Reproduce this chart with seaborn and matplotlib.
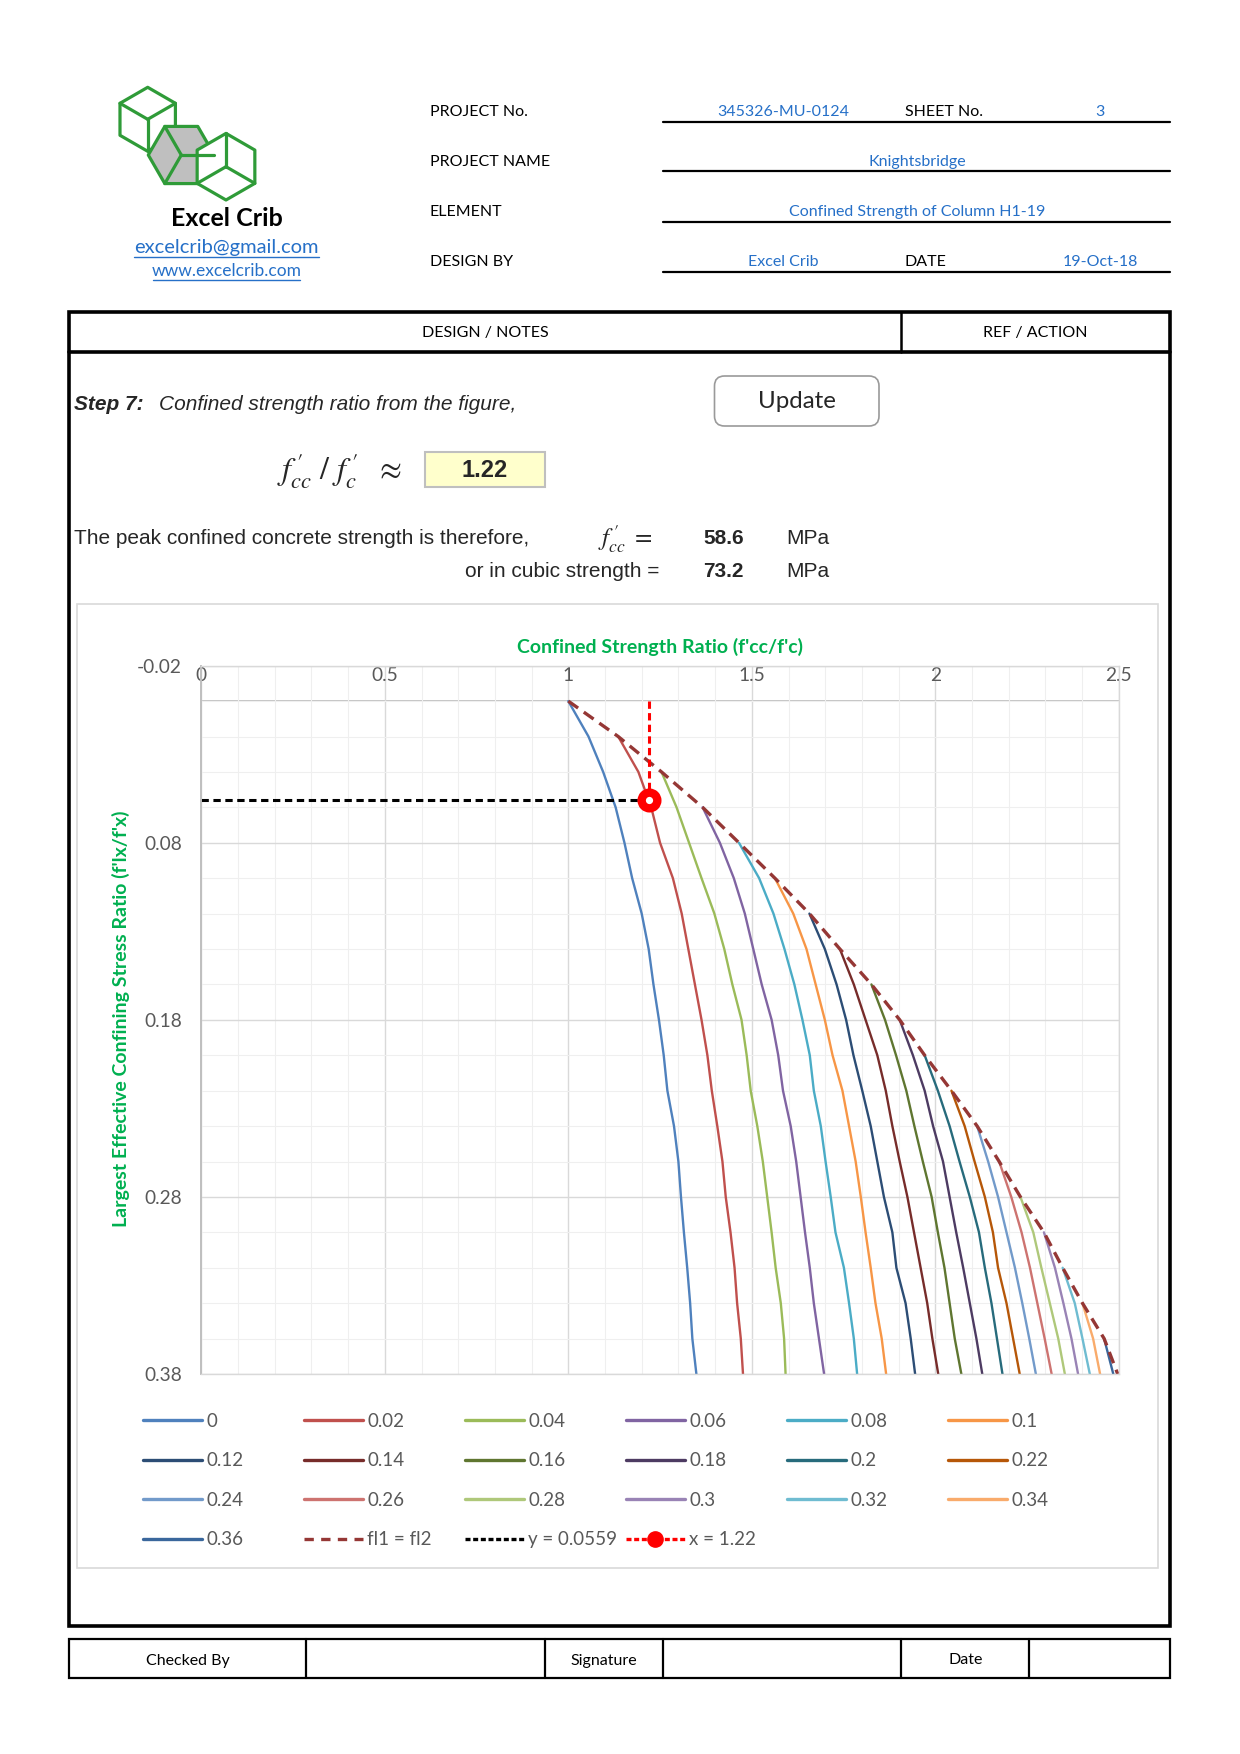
import numpy as np
import pandas as pd
import matplotlib
matplotlib.use("Agg")
import matplotlib.pyplot as plt
from matplotlib.lines import Line2D
from matplotlib.patches import Rectangle, Polygon, FancyBboxPatch
from matplotlib.ticker import MultipleLocator
import seaborn as sns

sns.set_theme(style="white")
plt.rcParams["font.family"] = ["Lato", "DejaVu Sans"]

# ---------------- chart data ----------------
fl2_levels = [0.00, 0.02, 0.04, 0.06, 0.08, 0.10, 0.12, 0.14, 0.16, 0.18,
              0.20, 0.22, 0.24, 0.26, 0.28, 0.30, 0.32, 0.34, 0.36, 0.38]

fl1_labels = ["0", "0.02", "0.04", "0.06", "0.08", "0.1", "0.12", "0.14", "0.16", "0.18",
              "0.2", "0.22", "0.24", "0.26", "0.28", "0.3", "0.32", "0.34", "0.36"]

# confined strength ratio along each curve, from fl2 == fl1 down to fl2 = 0.38
ratio_fl1_00 = [1.000, 1.055, 1.095, 1.129, 1.153, 1.174, 1.200, 1.219, 1.232, 1.247,
                1.260, 1.270, 1.288, 1.300, 1.307, 1.315, 1.324, 1.332, 1.338, 1.349]
ratio_fl1_02 = [1.136, 1.191, 1.226, 1.250, 1.285, 1.309, 1.327, 1.345, 1.363, 1.379,
                1.391, 1.406, 1.420, 1.429, 1.442, 1.453, 1.460, 1.470, 1.476]
ratio_fl1_04 = [1.254, 1.295, 1.329, 1.363, 1.398, 1.425, 1.447, 1.472, 1.486,
                1.497, 1.515, 1.530, 1.542, 1.554, 1.565, 1.579, 1.588, 1.592]
ratio_fl1_06 = [1.366, 1.413, 1.451, 1.481, 1.504, 1.527, 1.554, 1.572,
                1.585, 1.606, 1.621, 1.633, 1.645, 1.658, 1.669, 1.683, 1.697]
ratio_fl1_08 = [1.465, 1.520, 1.559, 1.589, 1.616, 1.638, 1.658,
                1.669, 1.688, 1.701, 1.715, 1.728, 1.751, 1.765, 1.778, 1.787]
ratio_fl1_10 = [1.563, 1.613, 1.649, 1.674, 1.699, 1.720,
                1.747, 1.765, 1.783, 1.797, 1.810, 1.824, 1.837, 1.854, 1.866]
ratio_fl1_12 = [1.657, 1.699, 1.731, 1.757, 1.777,
                1.801, 1.824, 1.842, 1.860, 1.883, 1.894, 1.919, 1.933, 1.945]
ratio_fl1_14 = [1.740, 1.778, 1.810, 1.842,
                1.865, 1.883, 1.903, 1.924, 1.942, 1.960, 1.978, 1.992, 2.008]
ratio_fl1_16 = [1.826, 1.863, 1.893,
                1.921, 1.943, 1.966, 1.990, 2.007, 2.025, 2.039, 2.053, 2.071]
ratio_fl1_18 = [1.903, 1.939, 1.971, 1.994, 2.021, 2.039, 2.057, 2.076, 2.094, 2.112, 2.128]
ratio_fl1_20 = [1.971, 2.007, 2.039, 2.066, 2.094, 2.119, 2.135, 2.153, 2.168, 2.183]
ratio_fl1_22 = [2.044, 2.080, 2.107, 2.135, 2.157, 2.171, 2.194, 2.212, 2.230]
ratio_fl1_24 = [2.114, 2.144, 2.171, 2.194, 2.217, 2.237, 2.256, 2.274]
ratio_fl1_26 = [2.174, 2.207, 2.235, 2.258, 2.278, 2.298, 2.317]
ratio_fl1_28 = [2.232, 2.267, 2.289, 2.312, 2.335, 2.353]
ratio_fl1_30 = [2.296, 2.326, 2.349, 2.371, 2.389]
ratio_fl1_32 = [2.347, 2.380, 2.401, 2.421]
ratio_fl1_34 = [2.401, 2.430, 2.449]
ratio_fl1_36 = [2.460, 2.485]

ratio_curves = [ratio_fl1_00, ratio_fl1_02, ratio_fl1_04, ratio_fl1_06, ratio_fl1_08,
                ratio_fl1_10, ratio_fl1_12, ratio_fl1_14, ratio_fl1_16, ratio_fl1_18,
                ratio_fl1_20, ratio_fl1_22, ratio_fl1_24, ratio_fl1_26, ratio_fl1_28,
                ratio_fl1_30, ratio_fl1_32, ratio_fl1_34, ratio_fl1_36]

# fl1 = fl2 envelope
diag_ratio = [1.000, 1.136, 1.254, 1.366, 1.465, 1.563, 1.657, 1.740, 1.826, 1.903,
              1.971, 2.044, 2.114, 2.174, 2.232, 2.296, 2.347, 2.401, 2.460, 2.497]

design_fl2 = 0.0559
design_ratio = 1.22
fc_result = "58.6"
fcu_result = "73.2"

x_tick_vals = [0, 0.5, 1, 1.5, 2, 2.5]
x_tick_labels = ["0", "0.5", "1", "1.5", "2", "2.5"]
y_tick_vals = [-0.02, 0.08, 0.18, 0.28, 0.38]
y_tick_labels = ["-0.02", "0.08", "0.18", "0.28", "0.38"]

curve_colors = ["#4F81BD", "#C0504D", "#9BBB59", "#8064A2", "#4BACC6", "#F79646",
                "#2C4D75", "#772C2A", "#5F7630", "#4D3B62", "#276B7C", "#B65708",
                "#729ACA", "#CD7370", "#AFC87A", "#9983B5", "#6FBCD1", "#F9AB6B",
                "#3A679C"]

rows = []
for lab, xs in zip(fl1_labels, ratio_curves):
    for x, y in zip(xs, fl2_levels[-len(xs):]):
        rows.append((lab, x, y))
df = pd.DataFrame(rows, columns=["fl1", "ratio", "fl2"])

# ---------------- page ----------------
W, H = 1240, 1754
fig = plt.figure(figsize=(W / 100, H / 100), dpi=100)
bg = fig.add_axes([0, 0, 1, 1], zorder=0)
bg.set_xlim(0, W)
bg.set_ylim(H, 0)
bg.axis("off")

ARIAL = ["Liberation Sans", "DejaVu Sans"]
BLUE = "#2670C8"
GREEN = "#2F9B38"


def hex_pts(cx, cy, r, start):
    ang = np.deg2rad(start + 60 * np.arange(6))
    return np.column_stack([cx + r * np.cos(ang), cy - r * np.sin(ang)])


def cube(cx, cy, r, start, inner, fc):
    bg.add_patch(Polygon(hex_pts(cx, cy, r, start), closed=True, fc=fc, ec=GREEN,
                         lw=2.3, joinstyle="round"))
    for a in inner:
        t = np.deg2rad(a)
        bg.plot([cx, cx + r * np.cos(t)], [cy, cy - r * np.sin(t)], color=GREEN,
                lw=2.3, solid_capstyle="round")


# logo
cube(147.7, 119.3, 32, 90, [150, 30, 270], "white")
cube(181.3, 155.0, 33, 0, [120, 0, 240], "#BFBFBF")
cube(226.0, 166.7, 33.3, 90, [90, 210, 330], "white")
bg.text(226.7, 218, "Excel Crib", ha="center", va="center", fontsize=18,
        fontweight="bold", color="black")
bg.text(226.7, 247.5, "excelcrib@gmail.com", ha="center", va="center", fontsize=14.5,
        color=BLUE)
bg.plot([134, 319], [257, 257], color=BLUE, lw=1)
bg.text(226.7, 271, "www.excelcrib.com", ha="center", va="center", fontsize=12.5,
        color=BLUE)
bg.plot([153, 300], [279.5, 279.5], color=BLUE, lw=1)

# header block
hdr = dict(va="center", fontsize=11.5)
for y, lab in zip([112.5, 162, 212, 262],
                  ["PROJECT No.", "PROJECT NAME", "ELEMENT", "DESIGN BY"]):
    bg.text(429.5, y, lab, ha="left", color="black", **hdr)
for y in [121.5, 171, 221.5, 271.5]:
    bg.plot([663, 1169.5], [y, y], color="black", lw=1.6)
bg.text(783, 112.5, "345326-MU-0124", ha="center", color=BLUE, **hdr)
bg.text(905, 112.5, "SHEET No.", ha="left", color="black", **hdr)
bg.text(1100, 112.5, "3", ha="center", color=BLUE, **hdr)
bg.text(917, 162, "Knightsbridge", ha="center", color=BLUE, **hdr)
bg.text(917, 212, "Confined Strength of Column H1-19", ha="center", color=BLUE, **hdr)
bg.text(783, 262, "Excel Crib", ha="center", color=BLUE, **hdr)
bg.text(905, 262, "DATE", ha="left", color="black", **hdr)
bg.text(1100, 262, "19-Oct-18", ha="center", color=BLUE, **hdr)

# main frame
bg.add_patch(Rectangle((68.5, 312), 1101, 1313.7, fill=False, ec="black", lw=2.6))
bg.plot([68.5, 1169.5], [352, 352], color="black", lw=2.6)
bg.plot([901, 901], [312, 352], color="black", lw=1.8)
bg.text(485, 333.5, "DESIGN / NOTES", ha="center", color="black", **hdr)
bg.text(1035, 333.5, "REF / ACTION", ha="center", color="black", **hdr)

# step 7 text
bg.text(73.8, 405, "Step 7:", ha="left", va="center", fontsize=15, family=ARIAL,
        fontweight="bold", style="italic")
bg.text(158.8, 405, "Confined strength ratio from the figure,", ha="left", va="center",
        fontsize=15, family=ARIAL, style="italic")
bg.add_patch(FancyBboxPatch((714.5, 376), 164.5, 50, boxstyle="round,pad=0,rounding_size=10",
                            fc="white", ec="#9A9A9A", lw=1.2))
bg.text(796.5, 402, "Update", ha="center", va="center", fontsize=17.3)

bg.text(277, 471, r"$f^{\,\prime}_{cc}\ /\ f^{\,\prime}_{c}\ \ \approx$", ha="left",
        va="center", fontsize=23, math_fontfamily="stix")
bg.add_patch(Rectangle((425, 452), 119.5, 34.5, fc="#FFFFCC", ec="#BFBFBF", lw=1.5))
bg.text(484.7, 470.5, f"{design_ratio:.2f}", ha="center", va="center", fontsize=17,
        family=ARIAL, fontweight="bold")

bg.text(73.8, 539, "The peak confined concrete strength is therefore,", ha="left",
        va="center", fontsize=15, family=ARIAL)
bg.text(598, 539, r"$f^{\,\prime}_{cc}\ =$", ha="left", va="center", fontsize=18,
        math_fontfamily="stix")
bg.text(723.4, 539, fc_result, ha="center", va="center", fontsize=15, family=ARIAL,
        fontweight="bold")
bg.text(786, 539, "MPa", ha="left", va="center", fontsize=15, family=ARIAL)
bg.text(659.7, 571.5, "or in cubic strength =", ha="right", va="center", fontsize=15,
        family=ARIAL)
bg.text(723.4, 571.5, fcu_result, ha="center", va="center", fontsize=15, family=ARIAL,
        fontweight="bold")
bg.text(786, 571.5, "MPa", ha="left", va="center", fontsize=15, family=ARIAL)

# chart area frame
bg.add_patch(Rectangle((77, 604), 1081, 963.6, fill=False, ec="#D9D9D9", lw=1.2))

# footer table
bg.add_patch(Rectangle((68.5, 1639), 1101, 39, fill=False, ec="black", lw=1.6))
for x in [306, 544.5, 663, 901, 1028.6]:
    bg.plot([x, x], [1639, 1678], color="black", lw=1.6)
bg.text(188, 1661, "Checked By", ha="center", color="black", **hdr)
bg.text(604, 1661, "Signature", ha="center", color="black", **hdr)
bg.text(966, 1660, "Date", ha="center", color="black", **hdr)

# ---------------- chart ----------------
ax_l, ax_r, ax_t, ax_b = 201.3, 1118.8, 665.7, 1374.0
ax = fig.add_axes([ax_l / W, 1 - ax_b / H, (ax_r - ax_l) / W, (ax_b - ax_t) / H], zorder=2)
ax.set_xlim(0, 2.5)
ax.set_ylim(0.38, -0.02)
ax.set_axisbelow(True)

palette = dict(zip(fl1_labels, curve_colors))
sns.lineplot(data=df, x="ratio", y="fl2", hue="fl1", hue_order=fl1_labels, palette=palette,
             sort=False, estimator=None, lw=1.7, legend=False, ax=ax)

ax.plot(diag_ratio, fl2_levels, color="#953735", lw=2.4, dashes=(3.6, 2.1))
ax.plot([0, design_ratio], [design_fl2, design_fl2], color="black", lw=2.2,
        dashes=(2.4, 1.5))
ax.plot([design_ratio, design_ratio], [0, design_fl2], color="#FF0000", lw=2.2,
        dashes=(2.4, 1.4), marker="o", markevery=[1], ms=11.3, mew=6,
        mfc="white", mec="#FF0000")

ax.axhline(0, color="#BFBFBF", lw=1.3, zorder=0.5)

ax.set_xticks(x_tick_vals)
ax.set_xticklabels(x_tick_labels)
ax.set_yticks(y_tick_vals)
ax.set_yticklabels(y_tick_labels)
ax.xaxis.set_minor_locator(MultipleLocator(0.1))
ax.yaxis.set_minor_locator(MultipleLocator(0.02))
ax.grid(which="major", color="#D9D9D9", lw=1.0)
ax.grid(which="minor", color="#EFEFEF", lw=0.8)
ax.xaxis.tick_top()
ax.tick_params(axis="x", which="both", length=0, pad=-13.5, labelsize=13.8,
               labelcolor="#595959")
ax.tick_params(axis="y", which="both", length=0, pad=14, labelsize=13.8,
               labelcolor="#595959")
for s in ax.spines.values():
    s.set_color("#D9D9D9")
    s.set_linewidth(1.0)
ax.spines["left"].set_color("#BFBFBF")
ax.spines["left"].set_linewidth(1.4)

ax.set_xlabel("Confined Strength Ratio (f'cc/f'c)", fontsize=14, fontweight="bold",
              color="#00B050")
ax.xaxis.set_label_position("top")
ax.xaxis.set_label_coords((660 - ax_l) / (ax_r - ax_l), (ax_b - 646.5) / (ax_b - ax_t))
ax.xaxis.label.set_va("center")
ax.set_ylabel("Largest Effective Confining Stress Ratio (f'lx/f'x)", fontsize=14,
              fontweight="bold", color="#00B050")
ax.yaxis.set_label_coords((121 - ax_l) / (ax_r - ax_l), (ax_b - 1019) / (ax_b - ax_t))
ax.yaxis.label.set_va("center")

# ---------------- legend (6 evenly spaced columns, row-wise order) ----------------
handles = [Line2D([], [], color=c, lw=2.4) for c in curve_colors]
labels = list(fl1_labels)
handles.append(Line2D([], [], color="#953735", lw=2.4, dashes=(2.8, 2.2)))
labels.append("fl1 = fl2")
handles.append(Line2D([], [], color="black", lw=2.4, dashes=(1.5, 0.8)))
labels.append(f"y = {design_fl2}")
handles.append(Line2D([], [], color="#FF0000", lw=2.4, dashes=(1.5, 0.8), marker="o",
                      ms=11, mfc="#FF0000", mec="#FF0000"))
labels.append(f"x = {design_ratio}")

for c in range(6):
    idx = list(range(c, len(handles), 6))
    fig.legend([handles[i] for i in idx], [labels[i] for i in idx], loc="upper left",
               bbox_to_anchor=((142.7 + 161 * c) / W, 1 - 1412.7 / H), frameon=False,
               fontsize=13.5, labelcolor="#595959", handlelength=3.15, handletextpad=0.25,
               labelspacing=1.2, borderpad=0, borderaxespad=0)

fig.savefig("out.png", dpi=100)
